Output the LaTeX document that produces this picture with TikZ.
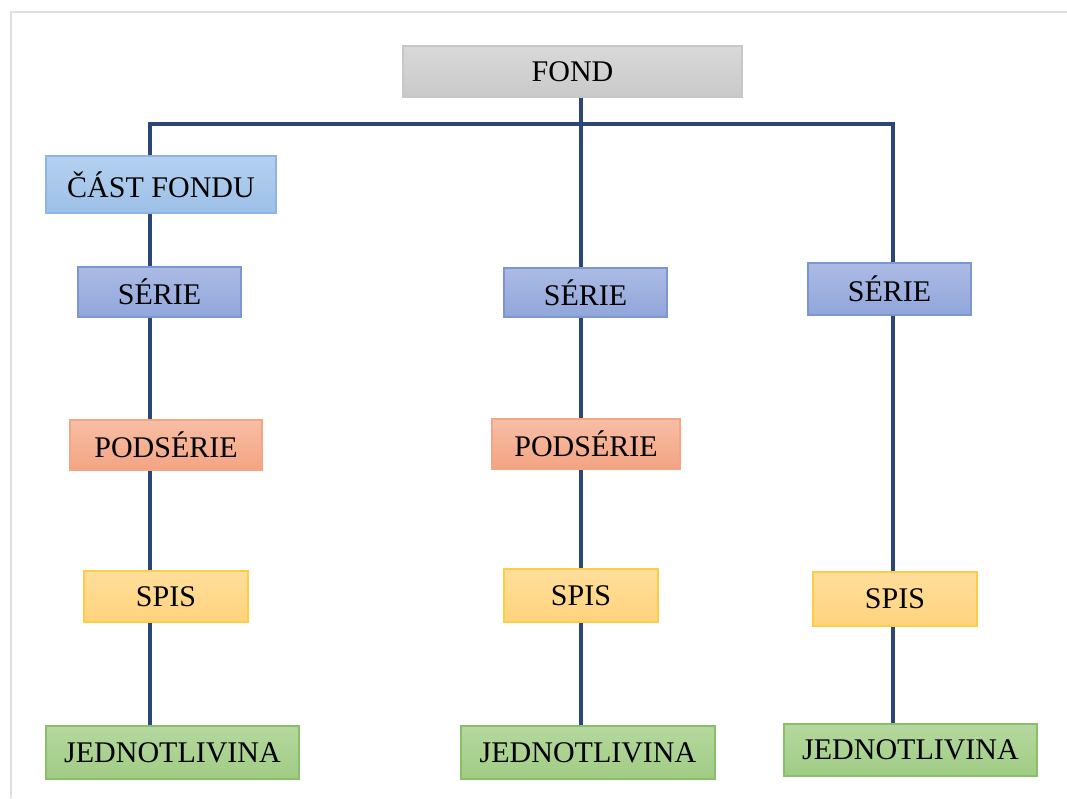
\documentclass[tikz,border=0pt]{standalone}
\usepackage{fontspec}
\setmainfont{Liberation Serif}
\definecolor{linec}{HTML}{2B4677}
\begin{document}
\begin{tikzpicture}[x=1pt,y=-1pt,
  box/.style={draw, line width=1.2pt, inner sep=0pt, font=\fontsize{30}{33}\selectfont, text=black},
  gbox/.style={box, draw=black!22, top color=black!15, bottom color=black!21},
  cbox/.style={box, draw={rgb,255:red,142;green,180;blue,227}, top color={rgb,255:red,180;green,209;blue,240}, bottom color={rgb,255:red,157;green,192;blue,232}},
  sbox/.style={box, draw={rgb,255:red,124;green,150;blue,212}, top color={rgb,255:red,172;green,187;blue,228}, bottom color={rgb,255:red,144;green,166;blue,219}},
  pbox/.style={box, draw={rgb,255:red,244;green,166;blue,130}, top color={rgb,255:red,247;green,190;blue,166}, bottom color={rgb,255:red,243;green,164;blue,130}},
  spbox/.style={box, draw={rgb,255:red,255;green,204;blue,70}, top color={rgb,255:red,255;green,222;blue,156}, bottom color={rgb,255:red,255;green,211;blue,124}},
  jbox/.style={box, draw={rgb,255:red,138;green,191;blue,106}, top color={rgb,255:red,181;green,216;blue,158}, bottom color={rgb,255:red,160;green,204;blue,132}},
  conn/.style={draw=linec, line width=4pt}]
\useasboundingbox (0,0) rectangle (1067,798);
% page frame
\draw[black!12, line width=2pt] (11,798) -- (11,12) -- (1067,12);
% nodes
\node[gbox, minimum width=339, minimum height=51] (fond) at (572.5,71.5) {FOND};
\node[cbox, minimum width=230, minimum height=57] (cast) at (161,184.5) {ČÁST FONDU};
\node[sbox, minimum width=163, minimum height=50] (s1) at (159.5,292) {SÉRIE};
\node[pbox, minimum width=192, minimum height=50] (p1) at (166,445) {PODSÉRIE};
\node[spbox, minimum width=164, minimum height=51] (sp1) at (166,596.5) {SPIS};
\node[jbox, minimum width=253, minimum height=53] (j1) at (172.5,752.5) {JEDNOTLIVINA};
\node[sbox, minimum width=163, minimum height=49] (s2) at (585.5,292.5) {SÉRIE};
\node[pbox, minimum width=188, minimum height=50] (p2) at (586,444) {PODSÉRIE};
\node[spbox, minimum width=154, minimum height=53] (sp2) at (581,595.5) {SPIS};
\node[jbox, minimum width=254, minimum height=53] (j2) at (588,752.5) {JEDNOTLIVINA};
\node[sbox, minimum width=163, minimum height=52] (s3) at (889.5,289) {SÉRIE};
\node[spbox, minimum width=164, minimum height=54] (sp3) at (895,599) {SPIS};
\node[jbox, minimum width=253, minimum height=52] (j3) at (910.5,750) {JEDNOTLIVINA};
% column coordinates
\coordinate (hl) at (150,124);
\coordinate (hr) at (893,124);
\coordinate (cm) at (581,124);
% connectors
\draw[conn] (hl |- cast.north) -- (hl) -- (hr) -- (hr |- s3.north);
\draw[conn] (cm |- fond.south) -- (cm |- s2.north);
\draw[conn] (hl |- cast.south) -- (hl |- s1.north);
\draw[conn] (hl |- s1.south) -- (hl |- p1.north);
\draw[conn] (hl |- p1.south) -- (hl |- sp1.north);
\draw[conn] (hl |- sp1.south) -- (hl |- j1.north);
\draw[conn] (cm |- s2.south) -- (cm |- p2.north);
\draw[conn] (cm |- p2.south) -- (cm |- sp2.north);
\draw[conn] (cm |- sp2.south) -- (cm |- j2.north);
\draw[conn] (hr |- s3.south) -- (hr |- sp3.north);
\draw[conn] (hr |- sp3.south) -- (hr |- j3.north);
\end{tikzpicture}
\end{document}
